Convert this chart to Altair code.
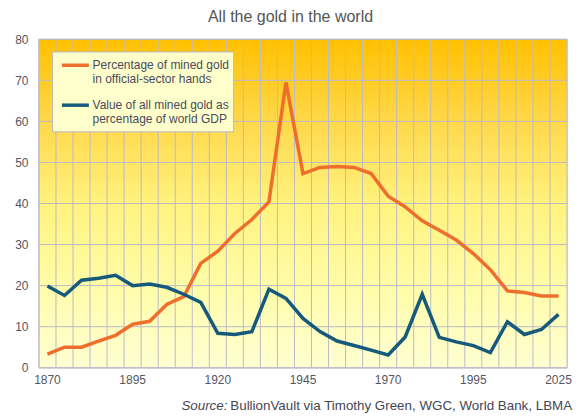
import altair as alt
import pandas as pd

# ---- data ----
years = [str(y) for y in range(1870, 2000, 5)] + ["2000", "2010", "2015", "2020", "2025"]
official_share = [3.3, 5.0, 5.0, 6.5, 7.9, 10.6, 11.3, 15.4, 17.3, 25.4, 28.4, 32.7, 36.1, 40.4,
                  69.5, 47.3, 48.8, 49.0, 48.8, 47.3, 41.8, 39.2, 35.8, 33.5, 31.1, 27.8, 23.9,
                  18.7, 18.3, 17.5, 17.5]
gold_vs_gdp = [19.9, 17.6, 21.3, 21.8, 22.5, 20.0, 20.4, 19.6, 17.9, 15.9, 8.4, 8.1, 8.8, 19.1,
               16.9, 12.0, 8.8, 6.5, 5.4, 4.3, 3.1, 7.5, 17.9, 7.4, 6.3, 5.4, 3.7, 11.2, 8.1,
               9.3, 13.0]
label_years = ["1870", "1895", "1920", "1945", "1970", "1995", "2025"]
y_ticks = [0, 10, 20, 30, 40, 50, 60, 70, 80]
series_names = ["Percentage of mined gold\nin official-sector hands",
                "Value of all mined gold as\npercentage of world GDP"]
series_colors = ["#EE6F2D", "#155A7B"]
title_text = "All the gold in the world"
source_label = "Source:"
source_text = "BullionVault via Timothy Green, WGC, World Bank, LBMA"

# ---- tables ----
rows = []
for name, vals in zip(series_names, [official_share, gold_vs_gdp]):
    for yr, v in zip(years, vals):
        rows.append({"year": yr, "value": v, "series": name})
df = pd.DataFrame(rows)
year_df = pd.DataFrame({"year": years})
tick_df = pd.DataFrame({"value": y_ticks})
one = pd.DataFrame({"k": [0]})

W, H = 529, 329
GRID = "#BBBBC6"
LABEL = "#555562"
FONT = "Liberation Sans"

xscale = alt.Scale(type="band", domain=years, paddingInner=0, paddingOuter=0)
yscale = alt.Scale(domain=[0, 80], nice=False, zero=True)

label_list = "[" + ",".join("'%s'" % y for y in label_years) + "]"
xaxis = alt.Axis(title=None, labelExpr="indexof(%s, datum.value) >= 0 ? datum.value : ''" % label_list,
                 ticks=False, tickSize=0, domain=False, grid=False, labelAngle=0, labelPadding=7,
                 labelFontSize=12, labelColor=LABEL, labelFont=FONT, labelOverlap=False)
yaxis = alt.Axis(title=None, values=y_ticks, ticks=False, tickSize=0, domain=False, grid=False,
                 labelPadding=11, labelFontSize=12, labelColor=LABEL, labelFont=FONT)

bg = alt.Chart(one).mark_rect(
    fill=alt.Gradient(gradient="linear", x1=0, x2=0, y1=0, y2=1, stops=[
        alt.GradientStop(color="#FFC000", offset=0),
        alt.GradientStop(color="#FFD84A", offset=0.25),
        alt.GradientStop(color="#FFF27E", offset=0.5),
        alt.GradientStop(color="#FFFCA8", offset=0.75),
        alt.GradientStop(color="#FFFFD2", offset=1),
    ]),
    stroke=GRID, strokeWidth=1,
).encode(x=alt.value(0), x2=alt.value("width"), y=alt.value(0), y2=alt.value("height"))

xgrid = alt.Chart(year_df).mark_rule(color=GRID, strokeWidth=1).encode(
    x=alt.X("year:O", sort=years, scale=xscale, axis=xaxis, bandPosition=0)
)
ygrid = alt.Chart(tick_df).mark_rule(color=GRID, strokeWidth=1).encode(
    y=alt.Y("value:Q", scale=yscale, axis=yaxis)
)

lines = alt.Chart(df).mark_line(strokeWidth=3.5, strokeJoin="miter").encode(
    x=alt.X("year:O", sort=years, scale=xscale, axis=xaxis, bandPosition=0.5),
    y=alt.Y("value:Q", scale=yscale, axis=yaxis),
    color=alt.Color("series:N", scale=alt.Scale(domain=series_names, range=series_colors), legend=None),
    detail="series:N",
)

legend_box = alt.Chart(one).mark_rect(fill="#FFFFCC", stroke=GRID, strokeWidth=1).encode(
    x=alt.value(13.7), x2=alt.value(195), y=alt.value(12.7), y2=alt.value(92.7)
)

legend_layers = []
for i, (name, col) in enumerate(zip(series_names, series_colors)):
    ent = pd.DataFrame({"series": [name]})
    yc = 26 + 40 * i
    legend_layers.append(
        alt.Chart(ent).mark_rule(color=col, strokeWidth=3.5).encode(
            x=alt.value(23), x2=alt.value(50), y=alt.value(yc))
    )
    legend_layers.append(
        alt.Chart(ent).mark_text(align="left", baseline="middle", lineBreak="\n", lineHeight=14,
                                 fontSize=12, font=FONT, color="#4A4A5E").encode(
            text="series:N", x=alt.value(53.7), y=alt.value(yc))
    )

title = alt.Chart(one).mark_text(text=title_text, fontSize=16, font=FONT, color="#555555",
                                 align="center", baseline="middle").encode(
    x=alt.value(252), y=alt.value(-22))
src1 = alt.Chart(one).mark_text(text=source_label, fontSize=13.4, font=FONT, fontStyle="italic",
                                color="#454552", align="left", baseline="middle").encode(
    x=alt.value(142.7), y=alt.value(367.7))
src2 = alt.Chart(one).mark_text(text=source_text, fontSize=13.4, font=FONT,
                                color="#454552", align="left", baseline="middle").encode(
    x=alt.value(191.7), y=alt.value(367.7))

chart = alt.layer(bg, xgrid, ygrid, lines, legend_box, *legend_layers, title, src1, src2).properties(
    width=W, height=H,
    autosize=alt.AutoSizeParams(type="none"),
    padding={"left": 31, "top": 31, "right": 6, "bottom": 48},
).configure_view(stroke=None).configure(background="white")

chart.save("out.html", embed_options={"renderer": "svg", "actions": False})
